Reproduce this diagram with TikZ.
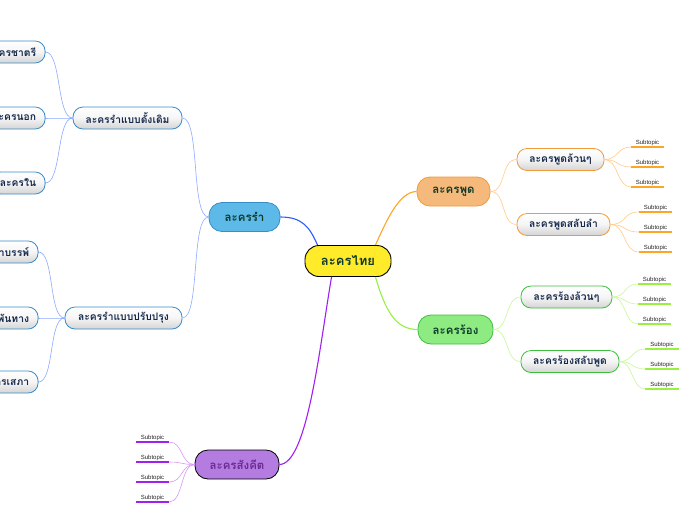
\documentclass[tikz,border=0pt]{standalone}
\usepackage{fontspec}
\newfontfamily\thaifont[Script=Thai]{Loma}
\setsansfont{Liberation Sans}
\definecolor{cyel}{HTML}{FFEB2A}
\definecolor{cbluef}{HTML}{5CB9E8}
\definecolor{cblued}{HTML}{3A8CC8}
\definecolor{corf}{HTML}{F5B97C}
\definecolor{cord}{HTML}{F09A3A}
\definecolor{cgrf}{HTML}{8DEB82}
\definecolor{cgrd}{HTML}{3CBF3C}
\definecolor{cpuf}{HTML}{B47BE0}
\definecolor{lblue}{HTML}{2E5BFF}
\definecolor{lbluel}{HTML}{8CAAFF}
\definecolor{lor}{HTML}{FFA526}
\definecolor{lorl}{HTML}{FFCC88}
\definecolor{lgr}{HTML}{99F040}
\definecolor{lgrl}{HTML}{C8F898}
\definecolor{lpu}{HTML}{A020F0}
\definecolor{lpul}{HTML}{D898FA}
\definecolor{tgreen}{HTML}{0F3A2A}
\definecolor{tnavy}{HTML}{15284A}
\definecolor{tpurple}{HTML}{6B2C91}
\tikzset{
  rootbox/.style={draw=black, line width=0.9pt, fill=cyel, rounded corners=14pt,
    minimum width=86pt, minimum height=31pt, inner sep=0pt,
    font=\thaifont\bfseries\fontsize{13}{15}\selectfont, text=tgreen},
  mainbox/.style={line width=0.8pt, rounded corners=13pt, minimum height=29pt, inner sep=0pt,
    font=\thaifont\bfseries\fontsize{11.5}{13}\selectfont, text=tgreen},
  subbox/.style={line width=0.8pt, rounded corners=10pt, minimum height=22pt, inner sep=0pt,
    top color=white, bottom color=black!17, middle color=black!4,
    font=\thaifont\bfseries\fontsize{10.3}{12}\selectfont, text=tnavy},
  leafbox/.style={subbox, inner xsep=9pt, anchor=east},
  subtopic/.style={font=\sffamily\fontsize{6}{7}\selectfont, text=black!85,
    minimum width=33pt, inner sep=1.5pt, anchor=south},
  mainline/.style={line width=1.1pt},
  thinline/.style={line width=0.6pt},
  uline/.style={line width=1.6pt},
}
\begin{document}
\begin{tikzpicture}[x=1pt,y=-1pt]
\useasboundingbox (0,0) rectangle (696,520);
\fill[white] (0,0) rectangle (696,520);
\begin{scope}
\clip (0,0) rectangle (696,520);

% level 1
\node[rootbox] (thai) at (348,261) {ละครไทย};
\node[mainbox, draw=cblued, fill=cbluef, minimum width=71pt] (ram) at (244.5,217) {ละครรำ};
\node[mainbox, draw=cord, fill=corf, minimum width=73pt] (phut) at (453.5,191.5) {ละครพูด};
\node[mainbox, draw=cgrd, fill=cgrf, minimum width=75pt] (rong) at (455.5,329.5) {ละครร้อง};
\node[mainbox, draw=black, fill=cpuf, minimum width=84pt, text=tpurple] (sang) at (237,464.5) {ละครสังคีต};

% level 2
\node[subbox, draw=cblued, minimum width=109pt] (dang) at (127.5,118) {ละครรำแบบดั้งเดิม};
\node[subbox, draw=cblued, minimum width=117pt] (prap) at (123.5,318) {ละครรำแบบปรับปรุง};
\node[subbox, draw=cord, minimum width=87pt] (pl) at (560.5,159.5) {ละครพูดล้วนๆ};
\node[subbox, draw=cord, minimum width=93pt] (ps) at (563.5,224.5) {ละครพูดสลับลำ};
\node[subbox, draw=cgrd, minimum width=91pt] (rl) at (566.5,297) {ละครร้องล้วนๆ};
\node[subbox, draw=cgrd, minimum width=98pt] (rs) at (570,361.5) {ละครร้องสลับพูด};

% level 3 (cut at left edge, as in the reference)
\node[leafbox, draw=cblued] (chatri) at (45.5,52) {ละครชาตรี};
\node[leafbox, draw=cblued] (nok) at (45.5,118) {ละครนอก};
\node[leafbox, draw=cblued] (nai) at (45.5,183) {ละครใน};
\node[leafbox, draw=cblued] (duek) at (38.5,252) {ละครดึกดำบรรพ์};
\node[leafbox, draw=cblued] (phan) at (38.5,318) {ละครพันทาง};
\node[leafbox, draw=cblued] (sepha) at (38.5,382) {ละครเสภา};

% subtopics
\foreach \n/\x/\y in {a1/647.5/147, a2/647.5/167, a3/647.5/187,
                       b1/655.5/212, b2/655.5/232, b3/655.5/252}{
  \node[subtopic] (\n) at (\x,\y) {Subtopic};
  \draw[uline, lor] (\n.south west) -- (\n.south east);
}
\foreach \n/\x/\y in {c1/654.5/284, c2/654.5/304, c3/654.5/324,
                       d1/662/349, d2/662/369, d3/662/389}{
  \node[subtopic] (\n) at (\x,\y) {Subtopic};
  \draw[uline, lgr] (\n.south west) -- (\n.south east);
}
\foreach \n/\y in {e1/442, e2/462, e3/482, e4/502}{
  \node[subtopic] (\n) at (152.5,\y) {Subtopic};
  \draw[uline, lpu] (\n.south west) -- (\n.south east);
}

% main connectors
\draw[mainline, lblue] ([xshift=13pt]thai.north west) .. controls +(-8,-18) and +(22,0) .. (ram.east);
\draw[mainline, lor] ([xshift=-16pt]thai.north east) .. controls +(10,-22) and +(-18,0) .. (phut.west);
\draw[mainline, lgr] ([xshift=-16pt]thai.south east) .. controls +(10,34) and +(-22,0) .. (rong.west);
\draw[mainline, lpu] ([xshift=27pt]thai.south west) .. controls +(-12,70) and +(28,0) .. (sang.east);

% level 2 connectors
\foreach \c in {dang, prap}
  \draw[thinline, lbluel] (ram.west) .. controls +(-18,0) and +(18,0) .. (\c.east);
\foreach \c in {pl, ps}
  \draw[thinline, lorl] (phut.east) .. controls +(16,0) and +(-16,0) .. (\c.west);
\foreach \c in {rl, rs}
  \draw[thinline, lgrl] (rong.east) .. controls +(16,0) and +(-16,0) .. (\c.west);

% level 3 connectors
\foreach \c in {chatri, nok, nai}
  \draw[thinline, lbluel] (dang.west) .. controls +(-16,0) and +(16,0) .. (\c.east);
\foreach \c in {duek, phan, sepha}
  \draw[thinline, lbluel] (prap.west) .. controls +(-16,0) and +(16,0) .. (\c.east);

% subtopic connectors
\foreach \c in {a1,a2,a3}
  \draw[thinline, lorl] (pl.east) .. controls +(14,0) and +(-14,0) .. (\c.south west);
\foreach \c in {b1,b2,b3}
  \draw[thinline, lorl] (ps.east) .. controls +(16,0) and +(-16,0) .. (\c.south west);
\foreach \c in {c1,c2,c3}
  \draw[thinline, lgrl] (rl.east) .. controls +(14,0) and +(-14,0) .. (\c.south west);
\foreach \c in {d1,d2,d3}
  \draw[thinline, lgrl] (rs.east) .. controls +(14,0) and +(-14,0) .. (\c.south west);
\foreach \c in {e1,e2,e3,e4}
  \draw[thinline, lpul] (sang.west) .. controls +(-14,0) and +(14,0) .. (\c.south east);
\end{scope}
\end{tikzpicture}
\end{document}
